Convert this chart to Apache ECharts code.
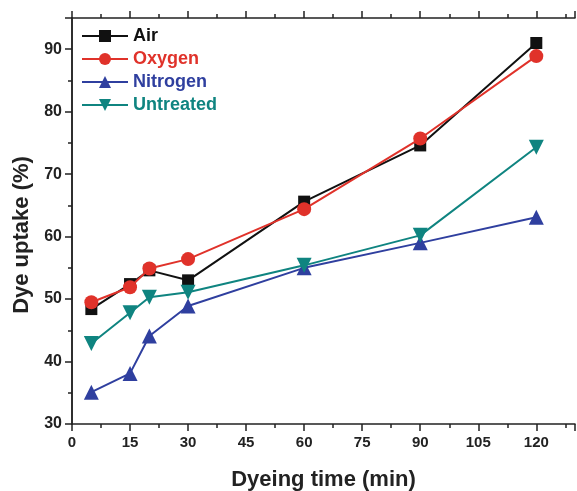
<!DOCTYPE html>
<html><head><meta charset="utf-8">
<script src="https://cdn.jsdelivr.net/npm/echarts@6/dist/echarts.min.js"></script>
<style>html,body{margin:0;padding:0;background:#fff}#c{width:577px;height:491px}</style>
</head><body><div id="c"></div>
<script>
const times = [5, 15, 20, 30, 60, 90, 120];
const air = [48.4, 52.4, 54.6, 53.0, 65.6, 74.6, 91.0];
const oxygen = [49.5, 51.9, 54.9, 56.4, 64.4, 75.7, 88.9];
const nitrogen = [35.1, 38.1, 44.1, 48.9, 55.0, 59.0, 63.1];
const untreated = [42.9, 47.8, 50.3, 51.1, 55.4, 60.2, 74.3];
const seriesNames = ['Air', 'Oxygen', 'Nitrogen', 'Untreated'];
const colors = ['#111111', '#e0322a', '#2f3f9f', '#0f8480'];

const font = 'Liberation Sans, Arial, sans-serif';
function pts(arr){ return times.map((t,i)=>[t, arr[i]]); }
const symbols = [
  {symbol:'rect', size:12, rot:0},
  {symbol:'circle', size:14, rot:0},
  {symbol:'triangle', size:15, rot:0},
  {symbol:'triangle', size:15, rot:180}
];
const data = [air, oxygen, nitrogen, untreated];
const chart = echarts.init(document.getElementById('c'));
const axisLineStyle = {color:'#222', width:1.5};
chart.setOption({
  animation:false,
  grid:{left:72, right:2, top:18, bottom:67, containLabel:false, outerBoundsMode:'none'},
  legend:{
    left:76, top:22, orient:'vertical', itemGap:5, itemWidth:46, itemHeight:15,
    data: seriesNames.map((n,i)=>({name:n, textStyle:{color:colors[i]}})),
    textStyle:{fontFamily:font, fontWeight:'bold', fontSize:18},
  },
  xAxis:[{
    type:'value', min:0, max:130, interval:15, position:'bottom',
    name:'Dyeing time (min)', nameLocation:'middle', nameGap:45,
    nameTextStyle:{fontFamily:font, fontWeight:'bold', fontSize:22, color:'#222'},
    axisLine:{lineStyle:axisLineStyle},
    axisTick:{inside:false, length:7, lineStyle:axisLineStyle},
    minorTick:{show:true, splitNumber:2, length:4, lineStyle:{color:'#222', width:1.5}},
    splitLine:{show:false},
    axisLabel:{fontFamily:font, fontWeight:'bold', fontSize:15, color:'#222', margin:11, showMaxLabel:false}
  },{
    type:'value', min:0, max:130, interval:15, position:'top',
    axisLine:{lineStyle:axisLineStyle},
    axisTick:{inside:false, length:7, lineStyle:axisLineStyle},
    minorTick:{show:true, splitNumber:2, length:4, lineStyle:{color:'#222', width:1.5}},
    splitLine:{show:false}, axisLabel:{show:false}
  }],
  yAxis:[{
    type:'value', min:30, max:95, interval:10, position:'left',
    name:'Dye uptake (%)', nameLocation:'middle', nameGap:39,
    nameTextStyle:{fontFamily:font, fontWeight:'bold', fontSize:22, color:'#222', padding:[0, 28, 0, 0]},
    axisLine:{show:true, lineStyle:axisLineStyle},
    axisTick:{show:true, inside:false, length:7, lineStyle:axisLineStyle},
    minorTick:{show:true, splitNumber:2, length:4, lineStyle:{color:'#222', width:1.5}},
    splitLine:{show:false},
    axisLabel:{fontFamily:font, fontWeight:'bold', fontSize:16, color:'#222', margin:10, showMaxLabel:false}
  },{
    type:'value', min:30, max:95, interval:10, position:'right',
    axisLine:{show:true, lineStyle:axisLineStyle},
    axisTick:{show:false}, splitLine:{show:false}, axisLabel:{show:false}
  }],
  series: seriesNames.map((n,i)=>({
    name:n, type:'line', data:pts(data[i]),
    xAxisIndex:0, yAxisIndex:0,
    symbol:symbols[i].symbol, symbolSize:symbols[i].size, symbolRotate:symbols[i].rot,
    showAllSymbol:true,
    lineStyle:{color:colors[i], width:2},
    itemStyle:{color:colors[i]},
    z: 2+i
  }))
});
</script></body></html>
